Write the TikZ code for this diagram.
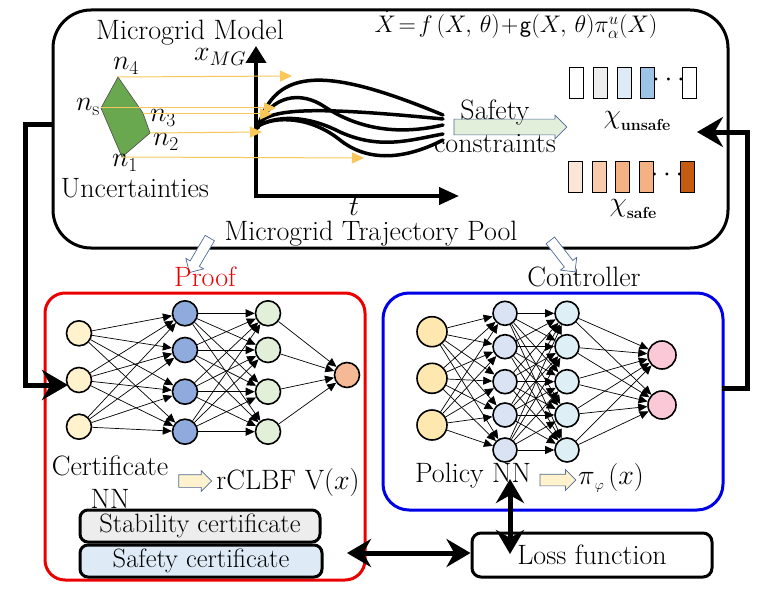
\RequirePackage{fix-cm}
\documentclass[tikz,border=0pt]{standalone}
\usetikzlibrary{arrows.meta,shapes.arrows,calc}
\definecolor{polygreen}{RGB}{106,168,79}
\definecolor{orgline}{RGB}{250,200,90}
\definecolor{slate}{RGB}{80,105,150}
\definecolor{arrgreen}{RGB}{226,239,218}
\definecolor{creamA}{RGB}{255,242,204}
\definecolor{creamB}{RGB}{255,232,175}
\definecolor{hblue}{RGB}{143,170,220}
\definecolor{hgreen}{RGB}{226,240,217}
\definecolor{outorange}{RGB}{245,185,150}
\definecolor{lav}{RGB}{218,227,243}
\definecolor{pcyan}{RGB}{222,240,245}
\definecolor{pinkout}{RGB}{250,200,215}
\definecolor{ugrey}{RGB}{237,237,237}
\definecolor{ublueA}{RGB}{222,235,247}
\definecolor{ublueB}{RGB}{157,195,230}
\definecolor{sA}{RGB}{251,229,214}
\definecolor{sB}{RGB}{248,203,173}
\definecolor{sC}{RGB}{244,177,131}
\definecolor{sD}{RGB}{197,90,17}
\definecolor{proofred}{RGB}{235,0,0}
\definecolor{ctrlblue}{RGB}{0,0,230}
\begin{document}
\begin{tikzpicture}[x=1pt,y=-1pt,font=\rmfamily\fontsize{28}{33}\selectfont,
  panel/.style={draw,line width=3pt,inner sep=0pt},
  nn/.style={circle,draw,line width=1.6pt,inner sep=0pt,minimum size=25pt},
  nnedge/.style={-{Triangle[length=9pt,width=8pt]},line width=0.7pt},
  fatline/.style={line width=5pt},
  orangearrow/.style={draw=orgline,line width=1pt,-{Triangle[length=12pt,width=11pt]}},
  trajline/.style={line width=3.5pt,line cap=round},
  blockarrow/.style={single arrow,draw=slate,line width=0.7pt,inner xsep=0pt,single arrow head indent=0pt},
  cellbox/.style={draw,line width=0.8pt,minimum width=14pt,minimum height=31pt,inner sep=0pt},
  txt/.style={inner sep=0pt}]
\useasboundingbox (0,0) rectangle (781,591);

% ---------- top panel ----------
\node[panel,rounded corners=38pt,minimum width=675pt,minimum height=238pt] (top) at (390.5,129) {};
\node[txt] (mgmodel) at (190,33) {Microgrid Model};
\node[txt] (eqn) at (516,25) {\fontsize{24}{30}\selectfont$\dot{X}\!=\!f\,(X,\,\theta)\!+\!\mathsf{g}(X,\,\theta)\pi^{u}_{\alpha}(X)$};

% uncertainty polygon
\coordinate (v4) at (118,77);
\coordinate (v3) at (143,113);
\coordinate (v2) at (150,133);
\coordinate (v1) at (122,157);
\coordinate (vs) at (101,108);
\draw[fill=polygreen,draw=black!70,line width=0.6pt] (v4) -- (v3) -- (v2) -- (v1) -- (vs) -- cycle;
\node[txt] (ln4) at (126,66) {$n_4$};
\node[txt] (lns) at (88,107) {$n_{\mathrm{s}}$};
\node[txt] (ln3) at (163,118) {$n_3$};
\node[txt] (ln2) at (166,142) {$n_2$};
\node[txt] (ln1) at (125,163) {$n_1$};
\node[txt] (uncert) at (135,188) {Uncertainties};

% axes
\coordinate (orig) at (256,196);
\coordinate (ytip) at (256,46);
\coordinate (xtip) at (459,196);
\draw[line width=4pt,{Triangle[length=17pt,width=20pt]}-{Triangle[length=20pt,width=17pt]}] (ytip) -- (orig) -- (xtip);
\node[txt] (xmg) at (220,57) {$x_{MG}$};
\node[txt] (tlab) at (354,207) {$t$};

% trajectories
\draw[trajline] (258,128) .. controls (275,65) and (330,68) .. (443,115);
\draw[trajline] (258,125) .. controls (268,106) and (330,108) .. (443,119);
\draw[trajline] (258,125) .. controls (272,96) and (300,90) .. (325,107) .. controls (360,130) and (400,135) .. (443,125);
\draw[trajline] (258,126) .. controls (275,116) and (305,114) .. (340,132) .. controls (380,150) and (410,140) .. (443,134);
\draw[trajline] (258,126) .. controls (275,116) and (310,116) .. (340,140) .. controls (365,160) and (400,162) .. (443,140);

% orange mapping arrows
\coordinate (t4) at (292,76);
\coordinate (ts) at (276,108);
\coordinate (t3) at (272,114);
\coordinate (t2) at (262,132);
\coordinate (t1) at (364,158);
\draw[orangearrow] (v4) -- (t4);
\draw[orangearrow] (vs) -- (ts);
\draw[orangearrow] (v3 |- t3) -- (t3);
\draw[orangearrow] (v2) -- (t2);
\draw[orangearrow] (v1) -- (t1);

% safety constraints
\node[blockarrow,fill=arrgreen,inner ysep=7.5pt,single arrow head extend=4pt,minimum height=113pt] (sarrow) at (506.5,127) {};
\node[txt,align=center] (safecons) at (495,126) {Safety\\constraints};

% unsafe / safe cells
\node[cellbox,fill=white] (uA) at (576,82.5) {};
\node[cellbox,fill=ugrey] (uB) at (600,82.5) {};
\node[cellbox,fill=ublueA] (uC) at (624.5,82.5) {};
\node[cellbox,fill=ublueB] (uD) at (647.5,82.5) {};
\node[txt] (udots) at (668.5,80) {$\cdots$};
\node[cellbox,fill=white] (uE) at (689,82.5) {};
\node[txt] (unsafelab) at (637,121) {$\chi$\raisebox{-7pt}{\fontsize{16}{16}\selectfont\bfseries unsafe}};
\node[cellbox,fill=sA] (sAn) at (575.5,177) {};
\node[cellbox,fill=sB] (sBn) at (599,177) {};
\node[cellbox,fill=sC] (sCn) at (622,177) {};
\node[cellbox,fill=sC] (sDn) at (646,177) {};
\node[txt] (sdots) at (667,175) {$\cdots$};
\node[cellbox,fill=sD] (sEn) at (687,177) {};
\node[txt] (safelab) at (633,209) {$\chi$\raisebox{-7pt}{\fontsize{16}{16}\selectfont\bfseries safe}};

\node[txt] (pool) at (371,234) {Microgrid Trajectory Pool};

% hollow down arrows
\node[blockarrow,fill=white,inner ysep=5pt,single arrow head extend=5pt,minimum height=40pt,rotate=239.5] (darrL) at (201,253) {};
\node[blockarrow,fill=white,inner ysep=5pt,single arrow head extend=5pt,minimum height=40pt,rotate=-52] (darrR) at (561,254) {};

% ---------- proof panel ----------
\node[txt,text=proofred] (prooflab) at (205,277) {Proof};
\node[panel,draw=proofred,rounded corners=20pt,minimum width=320pt,minimum height=287pt] (proof) at (205,436.5) {};
\foreach \i/\y in {1/333.3,2/380,3/426.7} \node[nn,fill=creamA] (pa\i) at (79,\y) {};
\foreach \i/\y in {1/313.3,2/350,3/391.7,4/431.7} {
  \node[nn,fill=hblue] (pb\i) at (185,\y) {};
  \node[nn,fill=hgreen] (pc\i) at (268,\y) {};
}
\node[nn,fill=outorange] (pd) at (347,375) {};
\foreach \i in {1,2,3} \foreach \j in {1,...,4} \draw[nnedge] (pa\i) -- (pb\j);
\foreach \i in {1,...,4} \foreach \j in {1,...,4} \draw[nnedge] (pb\i) -- (pc\j);
\foreach \i in {1,...,4} \draw[nnedge] (pc\i) -- (pd);
\node[txt,align=center] (certnn) at (110,482) {Certificate\\NN};
\node[blockarrow,fill=creamA,inner ysep=6pt,single arrow head extend=4pt,minimum height=33pt] (carrP) at (192,481) {};
\node[txt] (rclbf) at (288,483) {rCLBF V($x$)};
\node[panel,fill=ugrey,rounded corners=8pt,minimum width=240pt,minimum height=32pt,font=\fontsize{26.5}{30}\selectfont] (stab) at (200,526) {Stability certificate};
\node[panel,fill=ublueA,rounded corners=8pt,minimum width=242pt,minimum height=32pt,font=\fontsize{26.5}{30}\selectfont] (safecert) at (201,561) {Safety certificate};

% ---------- controller panel ----------
\node[txt] (ctrllab) at (584,277) {Controller};
\node[panel,draw=ctrlblue,rounded corners=26pt,minimum width=340pt,minimum height=217pt] (ctrl) at (553,401.5) {};
\foreach \i/\y in {1/331.7,2/378.3,3/425} \node[nn,minimum size=30pt,fill=creamB] (ca\i) at (432,\y) {};
\foreach \i/\y in {1/313.3,2/346.7,3/381.7,4/415,5/450} {
  \node[nn,minimum size=24pt,fill=lav] (cb\i) at (505,\y) {};
  \node[nn,minimum size=24pt,fill=pcyan] (cc\i) at (567,\y) {};
}
\foreach \i/\y in {1/355,2/405} \node[nn,minimum size=28pt,fill=pinkout] (cd\i) at (662,\y) {};
\foreach \i in {1,2,3} \foreach \j in {1,...,5} \draw[nnedge] (ca\i) -- (cb\j);
\foreach \i in {1,...,5} \foreach \j in {1,...,5} \draw[nnedge] (cb\i) -- (cc\j);
\foreach \i in {1,...,5} \foreach \j in {1,2} \draw[nnedge] (cc\i) -- (cd\j);
\node[txt] (policy) at (473,476) {Policy NN};
\node[blockarrow,fill=creamA,inner ysep=5.5pt,single arrow head extend=4.5pt,minimum height=36pt] (carrC) at (555,480) {};
\node[txt] (pilab) at (611,478) {$\pi$\raisebox{-5pt}{\fontsize{14}{14}\selectfont$\varphi$}\,($x$)};

% ---------- loss ----------
\node[panel,rounded corners=9pt,minimum width=240pt,minimum height=44pt] (loss) at (592,555) {Loss function};

% ---------- thick connectors ----------
\coordinate (lstart) at (53,125);
\coordinate (lcornA) at (25,125);
\coordinate (lcornB) at (25,385);
\coordinate (ltip) at (68,385);
\draw[fatline,-{Stealth[length=26pt,width=30pt]}] (lstart) -- (lcornA) -- (lcornB) -- (ltip);
\coordinate (rstart) at (722,388);
\coordinate (rcornA) at (747,388);
\coordinate (rcornB) at (747,132);
\coordinate (rtip) at (697,132);
\draw[fatline,-{Stealth[length=26pt,width=30pt]}] (rstart) -- (rcornA) -- (rcornB) -- (rtip);
\coordinate (vtop) at (510,479);
\coordinate (vbot) at (510,554);
\draw[fatline,{Stealth[length=24pt,width=28pt]}-{Stealth[length=24pt,width=28pt]}] (vtop) -- (vbot);
\coordinate (hleft) at (347,553);
\draw[fatline,{Stealth[length=24pt,width=28pt]}-{Stealth[length=24pt,width=28pt]}] (hleft) -- (hleft -| loss.west);
\end{tikzpicture}
\end{document}
